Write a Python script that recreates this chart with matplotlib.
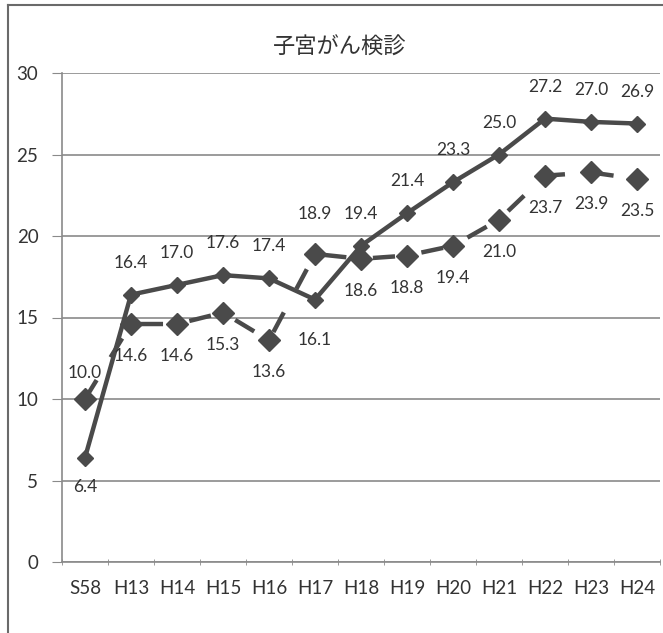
import numpy as np
import matplotlib.pyplot as plt
from matplotlib.lines import Line2D

plt.rcParams['font.family'] = ['Lato', 'Noto Sans CJK JP', 'DejaVu Sans']

# data
categories = ["S58", "H13", "H14", "H15", "H16", "H17", "H18",
              "H19", "H20", "H21", "H22", "H23", "H24"]
upper = [6.4, 16.4, 17.0, 17.6, 17.4, 16.1, 19.4, 21.4, 23.3, 25.0, 27.2, 27.0, 26.9]
lower = [10.0, 14.6, 14.6, 15.3, 13.6, 18.9, 18.6, 18.8, 19.4, 21.0, 23.7, 23.9, 23.5]
title = "子宮がん検診"

# label offsets in points (most labels: upper above, lower below)
upper_off = {0: -21, 5: -29}
lower_off = {0: 19, 5: 29}

line_col = "#4a4a4a"
text_col = "#333333"
x = np.arange(len(categories))

fig = plt.figure(figsize=(6.63, 6.33), dpi=100)
ax = fig.add_axes([62/663, 71/633, 598/663, 489/633])

ax.set_ylim(0, 30)
ax.set_xlim(-0.5, len(categories) - 0.5)
ax.set_yticks(np.arange(0, 31, 5))
ax.yaxis.grid(True, color="#8a8a8a", linewidth=1.2)
ax.set_axisbelow(True)
for s in ["top", "right"]:
    ax.spines[s].set_visible(False)
ax.spines["left"].set_color("#8a8a8a")
ax.spines["bottom"].set_color("#8a8a8a")
ax.spines["left"].set_linewidth(1.2)
ax.spines["bottom"].set_linewidth(1.2)

ax.set_xticks(x)
ax.set_xticklabels(categories)
ax.set_xticks(np.arange(-0.5, len(categories), 1), minor=True)
ax.tick_params(axis="x", which="major", length=0, pad=13, labelsize=13.5, labelcolor=text_col)
ax.tick_params(axis="x", which="minor", length=5, color="#8a8a8a", direction="inout")
ax.tick_params(axis="y", length=7, color="#8a8a8a", pad=10, labelsize=13.5, labelcolor=text_col)

ax.plot(x, upper, color=line_col, linewidth=3.2, marker="D", markersize=8,
        markerfacecolor=line_col, markeredgecolor=line_col, zorder=3)
ax.plot(x, lower, color=line_col, linewidth=3.2, marker="D", markersize=11,
        markerfacecolor=line_col, markeredgecolor=line_col, dashes=(5, 6), zorder=3)

for i, v in enumerate(upper):
    dy = upper_off.get(i, 23)
    ax.annotate(f"{v:.1f}", (x[i], v), xytext=(0, dy), textcoords="offset points",
                ha="center", va="center", fontsize=12.5, color=text_col)
for i, v in enumerate(lower):
    dy = lower_off.get(i, -23)
    ax.annotate(f"{v:.1f}", (x[i], v), xytext=(0, dy), textcoords="offset points",
                ha="center", va="center", fontsize=12.5, color=text_col)

fig.text(340/663, 1 - 47/633, title, ha="center", va="center", fontsize=16,
         color=text_col, family=['Noto Sans CJK JP', 'DejaVu Sans'])

# chart frame
fig.add_artist(Line2D([8/663, 8/663], [0, 1 - 5/633], transform=fig.transFigure,
                      color="#6a6a6a", linewidth=1.5))
fig.add_artist(Line2D([8/663, 1], [1 - 5/633, 1 - 5/633], transform=fig.transFigure,
                      color="#6a6a6a", linewidth=1.5))

fig.savefig("out.png", dpi=100)
